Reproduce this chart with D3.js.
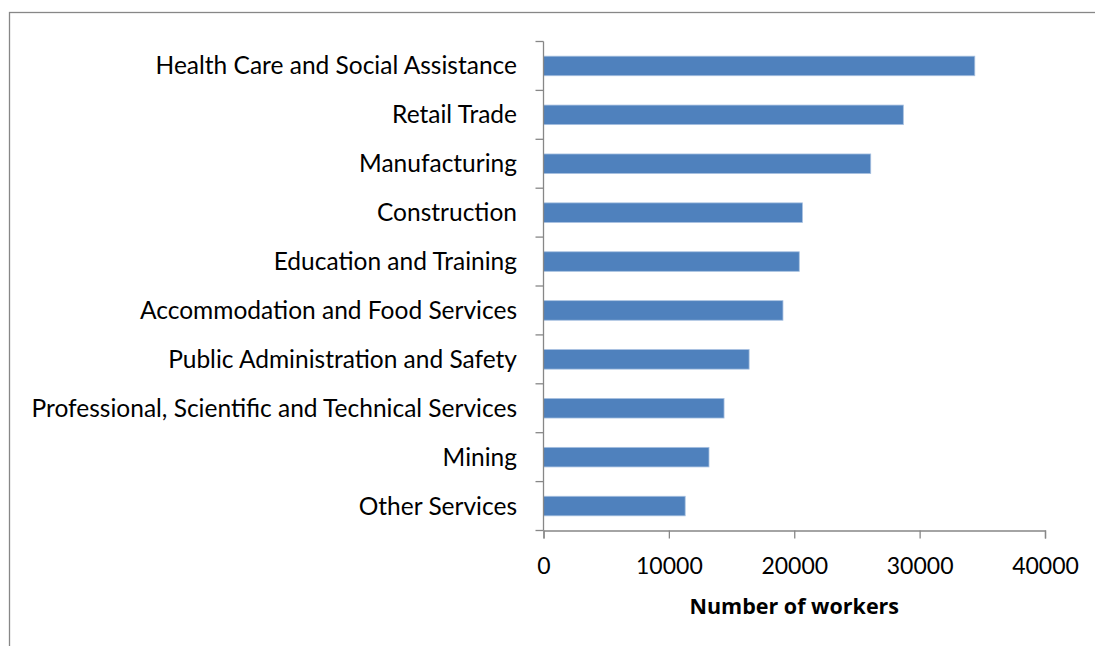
<!DOCTYPE html>
<html>
<head>
<meta charset="utf-8">
<script src="https://cdn.jsdelivr.net/npm/d3@7"></script>
<style>
  html, body { margin: 0; padding: 0; background: #fff; }
  svg { display: block; }
  text { font-family: Lato, "Open Sans", sans-serif; fill: #000; }
</style>
</head>
<body>
<svg id="chart" width="1095" height="646"></svg>
<script>
// Industries, largest employer first
const industries = [
  "Health Care and Social Assistance",
  "Retail Trade",
  "Manufacturing",
  "Construction",
  "Education and Training",
  "Accommodation and Food Services",
  "Public Administration and Safety",
  "Professional, Scientific and Technical Services",
  "Mining",
  "Other Services"
];
const workers = [34400, 28700, 26100, 20650, 20400, 19100, 16400, 14400, 13200, 11300];
const xTicks = [0, 10000, 20000, 30000, 40000];
const xTitle = "Number of workers";

const svg = d3.select("#chart");
const W = 1095, H = 646;
const margin = { left: 543.5, right: 50, top: 41.5, bottom: 115.5 };
const axisColor = "#878787";

// outer chart frame (runs off the right and bottom edges)
svg.append("rect")
  .attr("x", 9.5).attr("y", 12.5)
  .attr("width", W + 10).attr("height", H + 10)
  .attr("fill", "none").attr("stroke", axisColor).attr("stroke-width", 1.3);

const x = d3.scaleLinear().domain([0, 40000]).range([margin.left, W - margin.right]);
const y = d3.scaleBand().domain(industries).range([margin.top, H - margin.bottom])
  .paddingInner(0.6).paddingOuter(0.3);

const data = industries.map((name, i) => ({ name, value: workers[i] }));

// bars
svg.append("g").selectAll("rect").data(data).join("rect")
  .attr("x", x(0))
  .attr("y", d => y(d.name))
  .attr("width", d => x(d.value) - x(0))
  .attr("height", y.bandwidth())
  .attr("fill", "#4F81BD")
  .attr("stroke", "#A7C0E0")
  .attr("stroke-width", 0.8);

// category axis: ticks sit on band boundaries
const n = industries.length;
const boundaries = d3.range(n + 1).map(i => margin.top + i * ((H - margin.bottom - margin.top) / n));
const gy = svg.append("g");
gy.append("line")
  .attr("x1", x(0)).attr("x2", x(0))
  .attr("y1", margin.top).attr("y2", H - margin.bottom)
  .attr("stroke", axisColor).attr("stroke-width", 1.3);
gy.selectAll("line.tk").data(boundaries).join("line").attr("class", "tk")
  .attr("x1", x(0) - 8).attr("x2", x(0))
  .attr("y1", d => d).attr("y2", d => d)
  .attr("stroke", axisColor).attr("stroke-width", 1.3);
gy.selectAll("text").data(industries).join("text")
  .attr("x", 517)
  .attr("y", d => y(d) + y.bandwidth() / 2 + 8.5)
  .attr("text-anchor", "end")
  .style("font-size", "24.5px")
  .text(d => d);

// value axis
const gx = svg.append("g").attr("transform", `translate(0,${H - margin.bottom})`)
  .call(d3.axisBottom(x).tickValues(xTicks).tickFormat(d3.format("d")).tickSize(8));
gx.select(".domain").attr("stroke", axisColor).attr("stroke-width", 1.3);
gx.selectAll(".tick line").attr("stroke", axisColor).attr("stroke-width", 1.3);
gx.selectAll(".tick text")
  .attr("y", 43).attr("dy", null)
  .style("font-size", "23px").attr("fill", "#000");

svg.append("text")
  .attr("x", (x(0) + x(40000)) / 2)
  .attr("y", 614)
  .attr("text-anchor", "middle")
  .style("font-family", "'Open Sans', Lato, sans-serif")
  .style("font-size", "21.5px")
  .style("font-weight", "bold")
  .text(xTitle);
</script>
</body>
</html>
